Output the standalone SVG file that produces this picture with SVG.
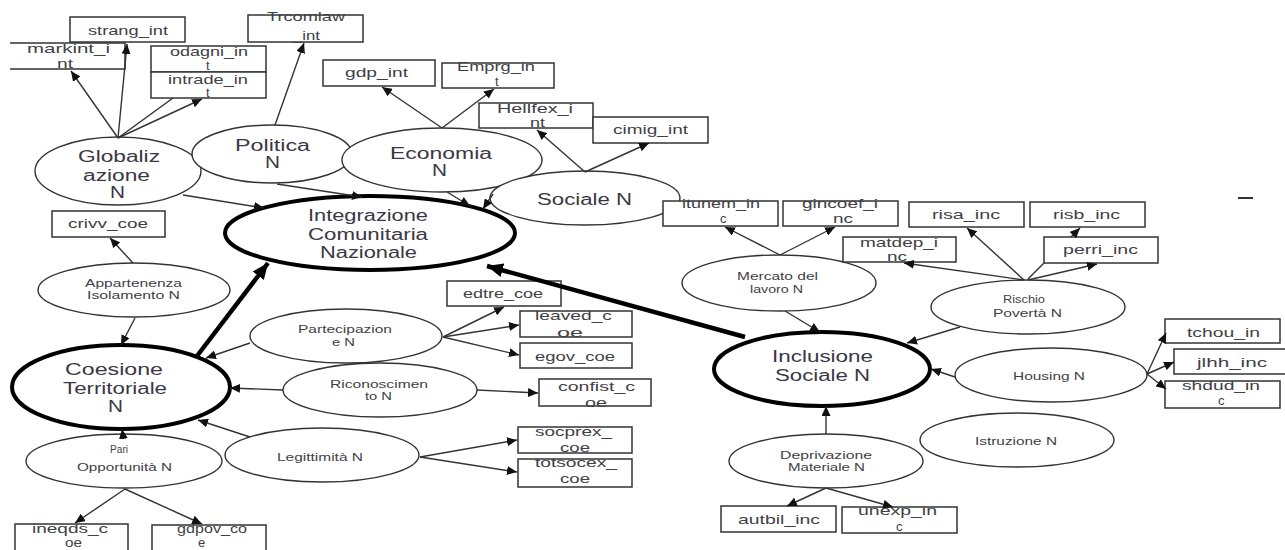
<svg xmlns="http://www.w3.org/2000/svg" width="1285" height="550" viewBox="0 0 1285 550">
<style>
text{font-family:"Liberation Sans",Arial,sans-serif;fill:#3f3f46}
.b{font-size:13px}
.s{font-size:11px}
.l{font-size:16px;fill:#3b3744}
rect,.bx{fill:#fff;stroke:#333;stroke-width:1.5}
ellipse{fill:#fff;stroke:#333;stroke-width:1.4}
ellipse.k{stroke:#000;stroke-width:4}
.c line{stroke:#333;stroke-width:1.4}
.c line.t{stroke:#000;stroke-width:4.5}
</style>
<defs>
<marker id="a" markerUnits="userSpaceOnUse" markerWidth="11" markerHeight="9" refX="10" refY="4.5" orient="auto"><path d="M0,0 L10,4.5 L0,9 z" fill="#111"/></marker>
<marker id="A" markerUnits="userSpaceOnUse" markerWidth="18" markerHeight="14" refX="16" refY="7" orient="auto"><path d="M0,0 L16,7 L0,14 z" fill="#000"/></marker>
</defs>
<rect x="0" y="0" width="1285" height="550" style="fill:#fff;stroke:none"/>

<g id="globalizzazione"><ellipse cx="118" cy="171" rx="83" ry="34"/><text class="l" x="78" y="162" textLength="82" lengthAdjust="spacingAndGlyphs">Globaliz</text><text class="l" x="83" y="181" textLength="67" lengthAdjust="spacingAndGlyphs">azione</text><text class="l" x="110" y="198" textLength="15" lengthAdjust="spacingAndGlyphs">N</text></g>
<g id="politica"><ellipse cx="272" cy="154" rx="80" ry="29"/><text class="l" x="235" y="151" textLength="75" lengthAdjust="spacingAndGlyphs">Politica</text><text class="l" x="265" y="168" textLength="15" lengthAdjust="spacingAndGlyphs">N</text></g>
<g id="economia"><ellipse cx="442" cy="160" rx="100" ry="32"/><text class="l" x="390" y="159" textLength="102" lengthAdjust="spacingAndGlyphs">Economia</text><text class="l" x="432" y="176" textLength="15" lengthAdjust="spacingAndGlyphs">N</text></g>
<g id="sociale"><ellipse cx="585" cy="198" rx="95" ry="27"/><text class="l" x="537" y="205" textLength="95" lengthAdjust="spacingAndGlyphs">Sociale N</text></g>
<g id="integrazione"><ellipse class="k" cx="370" cy="233" rx="145" ry="37"/><text class="l" x="308" y="221" textLength="120" lengthAdjust="spacingAndGlyphs">Integrazione</text><text class="l" x="308" y="240" textLength="120" lengthAdjust="spacingAndGlyphs">Comunitaria</text><text class="l" x="320" y="258" textLength="97" lengthAdjust="spacingAndGlyphs">Nazionale</text></g>
<g id="appartenenza"><ellipse cx="134" cy="290" rx="96" ry="27"/><text class="s" x="85" y="287" textLength="97" lengthAdjust="spacingAndGlyphs">Appartenenza</text><text class="s" x="87" y="299" textLength="93" lengthAdjust="spacingAndGlyphs">Isolamento N</text></g>
<g id="coesione"><ellipse class="k" cx="121" cy="387" rx="109" ry="42"/><text class="l" x="65" y="375" textLength="98" lengthAdjust="spacingAndGlyphs">Coesione</text><text class="l" x="63" y="394" textLength="104" lengthAdjust="spacingAndGlyphs">Territoriale</text><text class="l" x="108" y="412" textLength="15" lengthAdjust="spacingAndGlyphs">N</text></g>
<g id="pari"><ellipse cx="124" cy="461" rx="98" ry="27"/><text class="s" x="110" y="453" textLength="18" lengthAdjust="spacingAndGlyphs">Pari</text><text class="s" x="77" y="471" textLength="95" lengthAdjust="spacingAndGlyphs">Opportunità N</text></g>
<g id="partecipazione"><ellipse cx="346" cy="336" rx="96" ry="27"/><text class="s" x="298" y="333" textLength="94" lengthAdjust="spacingAndGlyphs">Partecipazion</text><text class="s" x="332" y="346" textLength="23" lengthAdjust="spacingAndGlyphs">e N</text></g>
<g id="riconoscimento"><ellipse cx="380" cy="390" rx="97" ry="27"/><text class="s" x="330" y="388" textLength="98" lengthAdjust="spacingAndGlyphs">Riconoscimen</text><text class="s" x="365" y="400" textLength="27" lengthAdjust="spacingAndGlyphs">to N</text></g>
<g id="legittimita"><ellipse cx="322" cy="455" rx="97" ry="27"/><text class="s" x="277" y="461" textLength="86" lengthAdjust="spacingAndGlyphs">Legittimità N</text></g>
<g id="inclusione"><ellipse class="k" cx="822" cy="369" rx="108" ry="37"/><text class="l" x="772" y="362" textLength="101" lengthAdjust="spacingAndGlyphs">Inclusione</text><text class="l" x="775" y="381" textLength="95" lengthAdjust="spacingAndGlyphs">Sociale N</text></g>
<g id="mercato"><ellipse cx="779" cy="283" rx="97" ry="28"/><text class="s" x="737" y="280" textLength="81" lengthAdjust="spacingAndGlyphs">Mercato del</text><text class="s" x="750" y="293" textLength="53" lengthAdjust="spacingAndGlyphs">lavoro N</text></g>
<g id="rischio"><ellipse cx="1028" cy="307" rx="97" ry="27"/><text class="s" x="1003" y="303" textLength="42" lengthAdjust="spacingAndGlyphs">Rischio</text><text class="s" x="993" y="317" textLength="69" lengthAdjust="spacingAndGlyphs">Povertà N</text></g>
<g id="housing"><ellipse cx="1051" cy="375" rx="96" ry="27"/><text class="s" x="1013" y="380" textLength="72" lengthAdjust="spacingAndGlyphs">Housing N</text></g>
<g id="istruzione"><ellipse cx="1017" cy="440" rx="97" ry="27"/><text class="s" x="975" y="445" textLength="82" lengthAdjust="spacingAndGlyphs">Istruzione N</text></g>
<g id="deprivazione"><ellipse cx="826" cy="461" rx="97" ry="27"/><text class="s" x="780" y="459" textLength="92" lengthAdjust="spacingAndGlyphs">Deprivazione</text><text class="s" x="788" y="471" textLength="77" lengthAdjust="spacingAndGlyphs">Materiale N</text></g>

<g id="strang_int"><rect x="70" y="17" width="115" height="25"/><text class="b" x="88" y="35" textLength="80" lengthAdjust="spacingAndGlyphs">strang_int</text></g>
<g id="markint_int"><path class="bx" d="M10,43 H125 V69 H10"/><text class="b" x="27" y="53" textLength="83" lengthAdjust="spacingAndGlyphs">markint_i</text><text class="b" x="57" y="68" textLength="16" lengthAdjust="spacingAndGlyphs">nt</text></g>
<g id="odagni_int"><rect x="151" y="46" width="115" height="26"/><text class="b" x="170" y="56" textLength="78" lengthAdjust="spacingAndGlyphs">odagni_in</text><text class="b" x="206" y="70">t</text></g>
<g id="intrade_int"><rect x="151" y="72" width="115" height="26"/><text class="b" x="168" y="84" textLength="80" lengthAdjust="spacingAndGlyphs">intrade_in</text><text class="b" x="206" y="97">t</text></g>
<g id="trcomlaw_int"><rect x="248" y="15" width="115" height="27"/><text class="b" x="267" y="21" textLength="78" lengthAdjust="spacingAndGlyphs">Trcomlaw</text><text class="b" x="293" y="40" textLength="27" lengthAdjust="spacingAndGlyphs">_int</text></g>
<g id="gdp_int"><rect x="323" y="60" width="112" height="26"/><text class="b" x="345" y="77" textLength="63" lengthAdjust="spacingAndGlyphs">gdp_int</text></g>
<g id="emprg_int"><rect x="442" y="63" width="112" height="25"/><text class="b" x="457" y="71" textLength="78" lengthAdjust="spacingAndGlyphs">Emprg_in</text><text class="b" x="495" y="86">t</text></g>
<g id="hellfex_int"><rect x="479" y="103" width="114" height="25"/><text class="b" x="497" y="113" textLength="76" lengthAdjust="spacingAndGlyphs">Hellfex_i</text><text class="b" x="530" y="127" textLength="15" lengthAdjust="spacingAndGlyphs">nt</text></g>
<g id="cimig_int"><rect x="593" y="117" width="115" height="26"/><text class="b" x="613" y="134" textLength="75" lengthAdjust="spacingAndGlyphs">cimig_int</text></g>
<g id="crivv_coe"><rect x="52" y="211" width="113" height="26"/><text class="b" x="68" y="228" textLength="80" lengthAdjust="spacingAndGlyphs">crivv_coe</text></g>
<g id="ineqds_coe"><rect x="15" y="524" width="113" height="30"/><text class="b" x="32" y="533" textLength="76" lengthAdjust="spacingAndGlyphs">ineqds_c</text><text class="b" x="65" y="547" textLength="17" lengthAdjust="spacingAndGlyphs">oe</text></g>
<g id="gdpov_coe"><rect x="152" y="525" width="114" height="30"/><text class="b" x="177" y="533" textLength="70" lengthAdjust="spacingAndGlyphs">gdpov_co</text><text class="b" x="198" y="547">e</text></g>
<g id="edtre_coe"><rect x="447" y="281" width="114" height="25"/><text class="b" x="463" y="298" textLength="80" lengthAdjust="spacingAndGlyphs">edtre_coe</text></g>
<g id="leaved_coe"><rect x="520" y="311" width="112" height="26"/><text class="b" x="535" y="320" textLength="77" lengthAdjust="spacingAndGlyphs">leaved_c</text><text class="b" x="557" y="337" textLength="26" lengthAdjust="spacingAndGlyphs">oe</text></g>
<g id="egov_coe"><rect x="520" y="343" width="112" height="25"/><text class="b" x="535" y="361" textLength="80" lengthAdjust="spacingAndGlyphs">egov_coe</text></g>
<g id="confist_coe"><rect x="539" y="379" width="112" height="27"/><text class="b" x="558" y="391" textLength="77" lengthAdjust="spacingAndGlyphs">confist_c</text><text class="b" x="585" y="407" textLength="22" lengthAdjust="spacingAndGlyphs">oe</text></g>
<g id="socprex_coe"><rect x="518" y="427" width="114" height="26"/><text class="b" x="535" y="436" textLength="77" lengthAdjust="spacingAndGlyphs">socprex_</text><text class="b" x="560" y="452" textLength="30" lengthAdjust="spacingAndGlyphs">coe</text></g>
<g id="totsocex_coe"><rect x="518" y="459" width="114" height="28"/><text class="b" x="535" y="467" textLength="82" lengthAdjust="spacingAndGlyphs">totsocex_</text><text class="b" x="560" y="483" textLength="30" lengthAdjust="spacingAndGlyphs">coe</text></g>
<g id="itunem_inc"><rect x="663" y="201" width="115" height="25"/><text class="b" x="682" y="208" textLength="78" lengthAdjust="spacingAndGlyphs">itunem_in</text><text class="b" x="720" y="223">c</text></g>
<g id="gincoef_inc"><rect x="783" y="201" width="115" height="25"/><text class="b" x="802" y="208" textLength="76" lengthAdjust="spacingAndGlyphs">gincoef_i</text><text class="b" x="833" y="223" textLength="20" lengthAdjust="spacingAndGlyphs">nc</text></g>
<g id="matdep_inc"><rect x="843" y="237" width="113" height="25"/><text class="b" x="860" y="247" textLength="78" lengthAdjust="spacingAndGlyphs">matdep_i</text><text class="b" x="887" y="261" textLength="20" lengthAdjust="spacingAndGlyphs">nc</text></g>
<g id="risa_inc"><rect x="909" y="202" width="115" height="25"/><text class="b" x="932" y="219" textLength="68" lengthAdjust="spacingAndGlyphs">risa_inc</text></g>
<g id="risb_inc"><rect x="1030" y="202" width="115" height="25"/><text class="b" x="1053" y="219" textLength="67" lengthAdjust="spacingAndGlyphs">risb_inc</text></g>
<g id="perri_inc"><rect x="1044" y="237" width="114" height="26"/><text class="b" x="1063" y="254" textLength="75" lengthAdjust="spacingAndGlyphs">perri_inc</text></g>
<g id="tchou_inc"><rect x="1165" y="319" width="115" height="24"/><text class="b" x="1187" y="337" textLength="73" lengthAdjust="spacingAndGlyphs">tchou_in</text></g>
<g id="jlhh_inc"><rect x="1174" y="349" width="115" height="25"/><text class="b" x="1197" y="367" textLength="70" lengthAdjust="spacingAndGlyphs">jlhh_inc</text></g>
<g id="shdud_inc"><rect x="1165" y="381" width="115" height="27"/><text class="b" x="1182" y="390" textLength="78" lengthAdjust="spacingAndGlyphs">shdud_in</text><text class="b" x="1218" y="405">c</text></g>
<g id="autbil_inc"><rect x="721" y="506" width="115" height="26"/><text class="b" x="738" y="524" textLength="82" lengthAdjust="spacingAndGlyphs">autbil_inc</text></g>
<g id="unexp_inc"><rect x="842" y="507" width="115" height="26"/><text class="b" x="858" y="515" textLength="79" lengthAdjust="spacingAndGlyphs">unexp_in</text><text class="b" x="896" y="531">c</text></g>

<g id="connectors" class="c">
<line x1="118" y1="138" x2="71" y2="71" marker-end="url(#a)"/>
<line x1="118" y1="138" x2="127" y2="44" marker-end="url(#a)"/>
<line x1="118" y1="138" x2="173" y2="98"/>
<line x1="118" y1="138" x2="202" y2="99" marker-end="url(#a)"/>
<line x1="183" y1="195" x2="264" y2="208" marker-end="url(#a)"/>
<line x1="275" y1="125" x2="304" y2="43" marker-end="url(#a)"/>
<line x1="277" y1="184" x2="362" y2="197" marker-end="url(#a)"/>
<line x1="442" y1="128" x2="382" y2="87" marker-end="url(#a)"/>
<line x1="442" y1="128" x2="494" y2="89" marker-end="url(#a)"/>
<line x1="447" y1="192" x2="470" y2="206" marker-end="url(#a)"/>
<line x1="585" y1="172" x2="537" y2="130" marker-end="url(#a)"/>
<line x1="585" y1="172" x2="649" y2="143" marker-end="url(#a)"/>
<line x1="493" y1="194" x2="483" y2="209" marker-end="url(#a)"/>
<line x1="133" y1="263" x2="110" y2="238" marker-end="url(#a)"/>
<line x1="135" y1="318" x2="121" y2="345" marker-end="url(#a)"/>
<line class="t" x1="197" y1="356" x2="268" y2="263" marker-end="url(#A)"/>
<line class="t" x1="745" y1="337" x2="487" y2="266" marker-end="url(#A)"/>
<line x1="250" y1="343" x2="206" y2="358" marker-end="url(#a)"/>
<line x1="443" y1="337" x2="504" y2="307" marker-end="url(#a)"/>
<line x1="443" y1="337" x2="519" y2="325" marker-end="url(#a)"/>
<line x1="443" y1="337" x2="519" y2="355" marker-end="url(#a)"/>
<line x1="283" y1="390" x2="230" y2="388" marker-end="url(#a)"/>
<line x1="477" y1="390" x2="538" y2="393" marker-end="url(#a)"/>
<line x1="250" y1="437" x2="198" y2="420" marker-end="url(#a)"/>
<line x1="420" y1="457" x2="517" y2="440" marker-end="url(#a)"/>
<line x1="420" y1="457" x2="517" y2="472" marker-end="url(#a)"/>
<line x1="123" y1="436" x2="122" y2="429" marker-end="url(#a)"/>
<line x1="125" y1="489" x2="75" y2="523" marker-end="url(#a)"/>
<line x1="125" y1="489" x2="202" y2="524" marker-end="url(#a)"/>
<line x1="780" y1="255" x2="725" y2="227" marker-end="url(#a)"/>
<line x1="780" y1="255" x2="835" y2="227" marker-end="url(#a)"/>
<line x1="785" y1="311" x2="820" y2="332" marker-end="url(#a)"/>
<line x1="960" y1="327" x2="907" y2="343" marker-end="url(#a)"/>
<line x1="1024" y1="280" x2="904" y2="263" marker-end="url(#a)"/>
<line x1="1024" y1="280" x2="967" y2="228" marker-end="url(#a)"/>
<line x1="1028" y1="279" x2="1044" y2="263"/>
<line x1="1071" y1="237" x2="1080" y2="228" marker-end="url(#a)"/>
<line x1="1028" y1="280" x2="1097" y2="264" marker-end="url(#a)"/>
<line x1="955" y1="377" x2="931" y2="369" marker-end="url(#a)"/>
<line x1="1147" y1="374" x2="1166" y2="333" marker-end="url(#a)"/>
<line x1="1147" y1="374" x2="1174" y2="362" marker-end="url(#a)"/>
<line x1="1147" y1="374" x2="1166" y2="389" marker-end="url(#a)"/>
<line x1="826" y1="434" x2="826" y2="406" marker-end="url(#a)"/>
<line x1="826" y1="488" x2="787" y2="506" marker-end="url(#a)"/>
<line x1="826" y1="488" x2="893" y2="507" marker-end="url(#a)"/>
</g>
<line x1="1238" y1="198" x2="1253" y2="198" style="stroke:#333;stroke-width:2"/>
</svg>
